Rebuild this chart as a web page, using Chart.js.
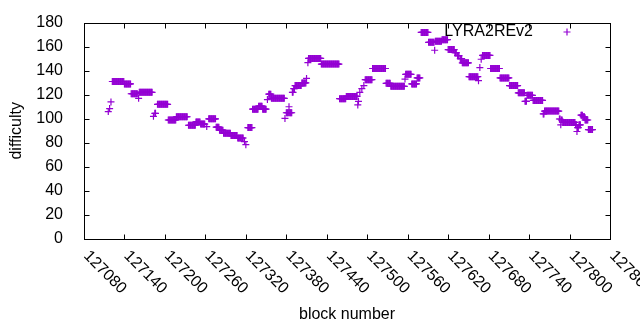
<!DOCTYPE html>
<html>
<head>
<meta charset="utf-8">
<script src="https://cdn.jsdelivr.net/npm/chart.js@4.4.1/dist/chart.umd.min.js"></script>
<style>
  html, body { margin: 0; padding: 0; background: #fff; }
  canvas { display: block; }
</style>
</head>
<body>
<canvas id="diffChart" width="640" height="330"></canvas>
<script>
// runs of blocks that share the same difficulty: first block, last block, difficulty
const runFirst = [127116, 127118, 127120, 127122, 127140, 127150, 127161, 127162, 127183, 127185,
    127189, 127205, 127217, 127235, 127246, 127253, 127262, 127265, 127276, 127281,
    127287, 127298, 127308, 127318, 127320, 127323, 127330, 127339, 127345, 127352,
    127354, 127358, 127378, 127380, 127384, 127385, 127389, 127391, 127393, 127403,
    127410, 127412, 127413, 127432, 127459, 127469, 127486, 127487, 127489, 127492,
    127495, 127497, 127508, 127528, 127535, 127556, 127557, 127566, 127574, 127580,
    127591, 127600, 127601, 127611, 127620, 127630, 127634, 127638, 127641, 127651,
    127665, 127667, 127669, 127671, 127683, 127697, 127711, 127724, 127734, 127737,
    127746, 127761, 127763, 127785, 127787, 127788, 127790, 127809, 127811, 127812,
    127814, 127817, 127820, 127823, 127828];
const runLast = [127116, 127118, 127120, 127139, 127149, 127159, 127161, 127181, 127183, 127186,
    127204, 127216, 127233, 127245, 127252, 127259, 127262, 127275, 127280, 127286,
    127297, 127307, 127316, 127318, 127320, 127329, 127338, 127344, 127350, 127352,
    127357, 127377, 127378, 127383, 127384, 127388, 127390, 127392, 127402, 127409,
    127410, 127412, 127431, 127458, 127468, 127485, 127486, 127487, 127489, 127492,
    127495, 127507, 127527, 127534, 127555, 127556, 127565, 127573, 127578, 127590,
    127599, 127600, 127610, 127619, 127629, 127632, 127636, 127640, 127650, 127664,
    127665, 127667, 127669, 127682, 127696, 127710, 127723, 127733, 127736, 127745,
    127760, 127762, 127784, 127786, 127787, 127789, 127808, 127810, 127811, 127813,
    127816, 127819, 127822, 127827, 127834];
const runDifficulty = [106, 108.5, 114, 131, 129, 120.8, 117, 122, 102, 104.5,
    112, 99, 101.7, 94.6, 97.4, 95.6, 93.5, 100, 93, 90.5,
    88, 86, 84, 81, 78.5, 92.7, 108, 110.5, 108, 116,
    120.5, 117, 100.3, 105, 110, 105, 122, 125, 127.6, 129.8,
    133.6, 146.7, 150.2, 145.5, 116.7, 118.6, 111.5, 114.5, 122, 125,
    127.6, 132.5, 141.8, 129.5, 127, 133, 137, 129, 134, 171.8,
    163.6, 157, 164.4, 165.8, 157.6, 155, 152.5, 150, 146.5, 135,
    131.7, 142.6, 149.5, 152.7, 141.8, 134, 127.6, 121.6, 114.5, 119.5,
    115.3, 104, 106.4, 99.8, 95, 99, 97, 95, 89.4, 92.7,
    95, 103, 101.7, 99, 91];

const xRange = [127080, 127860];
const yRange = [0, 180];
const seriesName = 'LYRA2REv2';

const purple = '#9400d3';
const fontFamily = "'Liberation Sans', Arial, sans-serif";

// one point per block
const points = [];
runFirst.forEach((first, i) => {
    for (let b = first; b <= runLast[i]; b++) {
        points.push({ x: b, y: runDifficulty[i] });
    }
});

// gnuplot style frame: border, inward ticks, rotated x labels, titles, key
const gnuplotFrame = {
    id: 'gnuplotFrame',
    afterDraw(chart) {
        const { ctx, chartArea: a, scales: { x, y } } = chart;
        const L = Math.round(a.left) + 0.5, R = Math.round(a.right) + 0.5;
        const T = Math.round(a.top) + 0.5, B = Math.round(a.bottom) + 0.5;
        const tick = 5;

        ctx.save();
        ctx.strokeStyle = '#000';
        ctx.lineWidth = 1;
        ctx.strokeRect(L, T, R - L, B - T);

        ctx.beginPath();
        y.ticks.forEach(t => {
            const py = Math.round(y.getPixelForValue(t.value)) + 0.5;
            ctx.moveTo(L, py); ctx.lineTo(L + tick, py);
            ctx.moveTo(R, py); ctx.lineTo(R - tick, py);
        });
        x.ticks.forEach(t => {
            const px = Math.round(x.getPixelForValue(t.value)) + 0.5;
            ctx.moveTo(px, B); ctx.lineTo(px, B - tick);
            ctx.moveTo(px, T); ctx.lineTo(px, T + tick);
        });
        ctx.stroke();

        ctx.fillStyle = '#000';
        ctx.font = '16px ' + fontFamily;
        ctx.textAlign = 'left';
        ctx.textBaseline = 'middle';
        x.ticks.forEach(t => {
            const px = x.getPixelForValue(t.value);
            ctx.save();
            ctx.translate(px + 2, B + 14);
            ctx.rotate(Math.PI / 4);
            ctx.fillText(String(t.value), 0, 0);
            ctx.restore();
        });

        ctx.textAlign = 'center';
        ctx.fillText('block number', (a.left + a.right) / 2, 315);
        ctx.save();
        ctx.translate(17, (a.top + a.bottom) / 2);
        ctx.rotate(-Math.PI / 2);
        ctx.fillText('difficulty', 0, 0);
        ctx.restore();

        // key
        ctx.textAlign = 'right';
        ctx.fillText(seriesName, 533, 32);
        ctx.strokeStyle = purple;
        ctx.lineWidth = 1.2;
        ctx.beginPath();
        ctx.moveTo(563.5, 32); ctx.lineTo(570.5, 32);
        ctx.moveTo(567, 28.5); ctx.lineTo(567, 35.5);
        ctx.stroke();
        ctx.restore();
    }
};

new Chart(document.getElementById('diffChart'), {
    type: 'scatter',
    data: {
        datasets: [{
            label: seriesName,
            data: points,
            pointStyle: 'cross',
            pointRadius: 3.5,
            pointHoverRadius: 3.5,
            borderColor: purple,
            backgroundColor: purple,
            borderWidth: 1.2,
            showLine: false
        }]
    },
    options: {
        responsive: false,
        animation: false,
        devicePixelRatio: 1,
        layout: { padding: { top: 19, right: 30, left: 0, bottom: 0 } },
        plugins: {
            legend: { display: false },
            tooltip: { enabled: false }
        },
        scales: {
            x: {
                type: 'linear',
                min: xRange[0],
                max: xRange[1],
                ticks: { stepSize: 60, display: false },
                grid: { display: false },
                border: { display: false },
                afterFit: s => { s.height = 91; }
            },
            y: {
                min: yRange[0],
                max: yRange[1],
                ticks: {
                    stepSize: 20,
                    padding: 13,
                    color: '#000',
                    font: { family: fontFamily, size: 16 }
                },
                grid: { display: false },
                border: { display: false },
                afterFit: s => { s.width = 84; }
            }
        }
    },
    plugins: [gnuplotFrame]
});
</script>
</body>
</html>
